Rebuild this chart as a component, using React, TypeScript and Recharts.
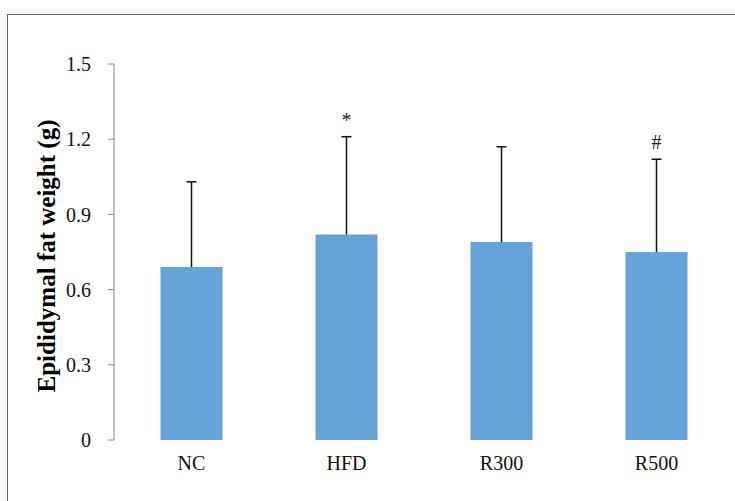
import { Bar, BarChart, LabelList, XAxis, YAxis } from "recharts";

const categories = ["NC", "HFD", "R300", "R500"];
const means = [0.69, 0.82, 0.79, 0.75];
const sds = [0.34, 0.39, 0.38, 0.37];
const marks = ["", "*", "", "#"];
const yTicks = [0, 0.3, 0.6, 0.9, 1.2, 1.5];
const boundaryTicks = [0, 1, 2, 3, 4];

const data = categories.map((name, i) => ({
  name,
  mean: means[i],
  sd: sds[i],
  mark: marks[i],
}));

const FONT = "'Liberation Serif', 'Times New Roman', serif";
const AXIS = "#8a8a8a";
const BLUE = "#65a3da";

// stacked on top of the mean bar: draws the one-sided error whisker
function ErrorWhisker(props: any) {
  const { x, y, width, height } = props;
  const cx = x + width / 2;
  return (
    <g>
      <line x1={cx} x2={cx} y1={y + height} y2={y} stroke="#111" strokeWidth={1.5} />
      <line x1={cx - 5} x2={cx + 5} y1={y} y2={y} stroke="#111" strokeWidth={1.5} />
    </g>
  );
}

function YLabel({ viewBox }: any) {
  const cx = viewBox.x + 46;
  const cy = viewBox.y + viewBox.height / 2 + 4;
  return (
    <text
      x={cx}
      y={cy}
      transform={`rotate(-90, ${cx}, ${cy})`}
      textAnchor="middle"
      dominantBaseline="central"
      fontFamily={FONT}
      fontWeight="bold"
      fontSize={25}
      fill="#000"
    >
      Epididymal fat weight (g)
    </text>
  );
}

export default function App() {
  return (
    <div
      style={{
        position: "fixed",
        left: 0,
        top: 0,
        width: 735,
        height: 501,
        overflow: "hidden",
        background: "#fff",
      }}
    >
      <div
        style={{
          position: "absolute",
          left: 7,
          top: 14,
          width: 800,
          height: 600,
          border: "1px solid #666",
        }}
      />
      <div style={{ position: "absolute", left: 0, top: 0 }}>
        <BarChart
          width={735}
          height={501}
          data={data}
          margin={{ top: 64, right: 1, bottom: 0, left: 0 }}
          barCategoryGap="30%"
        >
          <XAxis
            xAxisId="grid"
            type="number"
            domain={[0, 4]}
            ticks={boundaryTicks}
            tickFormatter={() => ""}
            height={0}
            stroke={AXIS}
            tickSize={6}
            allowDataOverflow
          />
          <XAxis
            xAxisId="cat"
            dataKey="name"
            height={61}
            axisLine={false}
            tickLine={false}
            tickSize={0}
            tickMargin={16}
            tick={{ fontFamily: FONT, fontSize: 20, fill: "#111" }}
          />
          <YAxis
            width={114}
            domain={[0, 1.5]}
            ticks={yTicks}
            tickFormatter={(v: number) => (v === 0 ? "0" : v.toFixed(1))}
            stroke={AXIS}
            tickSize={6}
            tickMargin={17}
            tick={{ fontFamily: FONT, fontSize: 20, fill: "#111" }}
            label={<YLabel />}
          />
          <Bar
            xAxisId="cat"
            dataKey="mean"
            stackId="s"
            fill={BLUE}
            isAnimationActive={false}
          />
          <Bar
            xAxisId="cat"
            dataKey="sd"
            stackId="s"
            fill="none"
            shape={ErrorWhisker}
            isAnimationActive={false}
          >
            <LabelList
              dataKey="mark"
              position="top"
              offset={10}
              style={{ fontFamily: FONT, fontSize: 20, fill: "#222" }}
            />
          </Bar>
        </BarChart>
      </div>
    </div>
  );
}
